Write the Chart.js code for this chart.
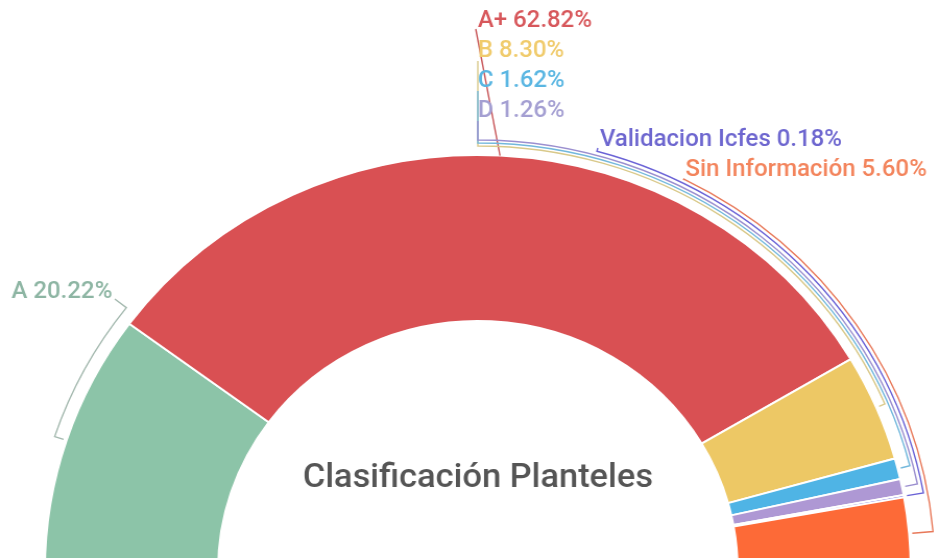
<!DOCTYPE html>
<html lang="es">
<head>
<meta charset="UTF-8">
<title>Clasificación Planteles</title>
<script src="https://cdn.jsdelivr.net/npm/chart.js"></script>
<style>
  html, body { margin: 0; padding: 0; background: #fff; overflow: hidden; }
  /* the reference is slightly stretched sideways */
  #wrap { width: 900px; height: 600px; transform: scaleX(1.0433); transform-origin: 0 0; }
</style>
</head>
<body>
<div id="wrap"><canvas id="chart" width="900" height="600"></canvas></div>
<script>
// data
const categories = ['A', 'A+', 'B', 'C', 'D', 'Validacion Icfes', 'Sin Información'];
const percentages = [20.22, 62.82, 8.30, 1.62, 1.26, 0.18, 5.60];
const sliceColors = ['#8cc4a8', '#d95053', '#edc865', '#4fb4e5', '#ae98d4', '#6a62d6', '#fd6a37'];
const labelColors = ['#8db5a3', '#d7575b', '#f0cb6c', '#5ab6e2', '#a49fd2', '#6d66cf', '#f3845c'];
const lineColors = ['#a3b8ae', '#c8585b', '#d9c98a', '#72b8dc', '#9b8fcf', '#6a62d6', '#e8795a'];
const chartTitle = 'Clasificación Planteles';

// label placement (canvas px): text position, line anchor, bracket offset
const labelLayout = [
  { x: 11, y: 292, ax: 110, ay: 299, off: 12 },
  { x: 458, y: 21, ax: 456, ay: 29, direct: true },
  { x: 458, y: 51, ax: 458, ay: 61, off: 9 },
  { x: 458, y: 81, ax: 458, ay: 91, off: 12 },
  { x: 458, y: 111, ax: 458, ay: 121, off: 15 },
  { x: 575, y: 140, ax: 573, ay: 148, off: 19 },
  { x: 657, y: 170, ax: 655, ay: 180, off: 23 }
];

// draws the title, the brackets and the outside labels
const leaderPlugin = {
  id: 'leaders',
  afterDatasetsDraw(chart) {
    const ctx = chart.ctx;
    const arcs = chart.getDatasetMeta(0).data;
    const cx = arcs[0].x, cy = arcs[0].y, R = arcs[0].outerRadius;

    ctx.save();
    ctx.font = '500 33px Roboto';
    ctx.fillStyle = '#555555';
    ctx.textAlign = 'center';
    ctx.textBaseline = 'alphabetic';
    ctx.fillText(chartTitle, cx, 487);

    arcs.forEach((arc, i) => {
      const L = labelLayout[i];
      const mid = (arc.startAngle + arc.endAngle) / 2;
      ctx.strokeStyle = lineColors[i];
      ctx.lineWidth = 1.4;
      ctx.beginPath();
      if (L.direct) {
        ctx.moveTo(cx + R * Math.cos(mid), cy + R * Math.sin(mid));
        ctx.lineTo(L.ax, L.ay);
      } else {
        const r = R + L.off;
        const end = Math.atan2(L.ay - cy, L.ax - cx);
        ctx.moveTo(cx + (R + 3) * Math.cos(mid), cy + (R + 3) * Math.sin(mid));
        ctx.lineTo(cx + r * Math.cos(mid), cy + r * Math.sin(mid));
        ctx.arc(cx, cy, r, mid, end, end < mid);
        ctx.lineTo(L.ax, L.ay);
      }
      ctx.stroke();

      ctx.font = '500 23px Roboto';
      ctx.fillStyle = labelColors[i];
      ctx.textAlign = 'left';
      ctx.textBaseline = 'middle';
      ctx.fillText(categories[i] + ' ' + percentages[i].toFixed(2) + '%', L.x, L.y);
    });
    ctx.restore();
  }
};

new Chart(document.getElementById('chart'), {
  type: 'doughnut',
  data: {
    labels: categories,
    datasets: [{
      data: percentages,
      backgroundColor: sliceColors,
      borderColor: '#ffffff',
      borderWidth: 2,
      hoverOffset: 0
    }]
  },
  options: {
    responsive: false,
    animation: false,
    rotation: -90,
    circumference: 180,
    cutout: '60%',
    layout: { padding: { left: 42, right: 26, top: 154, bottom: 29 } },
    plugins: {
      legend: { display: false },
      tooltip: { enabled: false }
    }
  },
  plugins: [leaderPlugin]
});
</script>
</body>
</html>
